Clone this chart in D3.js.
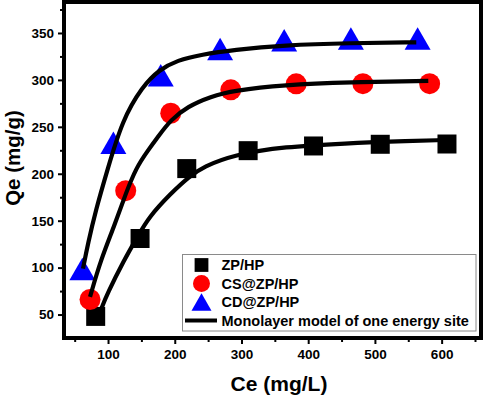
<!DOCTYPE html>
<html><head><meta charset="utf-8">
<script src="https://cdn.jsdelivr.net/npm/d3@7"></script>
<style>body{margin:0;background:#fff}svg{display:block}text{font-family:Arial,"Liberation Sans",sans-serif;font-weight:bold;fill:#000}</style>
</head><body><svg id="c" width="484" height="397"></svg>
<script>
// ---- data ----
const seriesNames = ["ZP/HP", "CS@ZP/HP", "CD@ZP/HP"];
const fitName = "Monolayer model of one energy site";
const zpX = [81.5, 148, 218, 310, 408, 508, 608];
const zpY = [48, 131, 205.5, 224.6, 229.6, 231.4, 231.7];
const csX = [73, 126.5, 194, 284, 382, 482, 582];
const csY = [66, 182, 264.5, 289.4, 295.8, 296, 296];
const cdX = [61.5, 108, 179, 268, 364, 464, 564];
const cdY = [98.5, 233, 305, 333, 342.3, 344, 344];
// fitted curves
const zpFitX = [89, 99, 124, 144, 161.5, 194, 221.4, 243, 288, 363, 463, 515, 608];
const zpFitY = [54.6, 72.4, 108, 132.8, 154.2, 179.1, 196.9, 207.5, 220, 228.9, 232.5, 234.2, 236];
const csFitX = [73, 89, 109, 126.5, 142.7, 159, 175.4, 194, 219, 254, 288, 363, 463, 580];
const csFitY = [68.8, 108, 143.5, 179, 207, 224, 240, 257.4, 271.6, 282.3, 288.7, 294.8, 297.6, 299];
const cdFitX = [62.5, 70, 81.6, 99, 121.4, 151.4, 176.5, 204, 240, 288, 363, 463, 562];
const cdFitY = [99, 125.8, 161.3, 204, 257.3, 293, 310.7, 321, 327, 332, 337, 339.3, 340];
const xTicks = [100, 200, 300, 400, 500, 600];
const xMinor = [50, 150, 250, 350, 450, 550, 650];
const yTicks = [50, 100, 150, 200, 250, 300, 350];
const yMinor = [75, 125, 175, 225, 275, 325, 375];

// ---- layout ----
const L = 64, T = 2, R = 481, B = 338;
const svg = d3.select("#c");
const x = d3.scaleLinear().domain([34, 659]).range([L, R]);
const y = d3.scaleLinear().domain([25, 383]).range([B, T]);

// axes (ticks outward)
const gx = svg.append("g").attr("transform", `translate(0,${B})`)
  .call(d3.axisBottom(x).tickValues(xTicks).tickSize(6).tickPadding(5));
const gxm = svg.append("g").attr("transform", `translate(0,${B})`)
  .call(d3.axisBottom(x).tickValues(xMinor).tickSize(4).tickFormat(""));
const gy = svg.append("g").attr("transform", `translate(${L},0)`)
  .call(d3.axisLeft(y).tickValues(yTicks).tickSize(6).tickPadding(4));
const gym = svg.append("g").attr("transform", `translate(${L},0)`)
  .call(d3.axisLeft(y).tickValues(yMinor).tickSize(4).tickFormat(""));
[gx, gxm, gy, gym].forEach(g => {
  g.select(".domain").remove();
  g.selectAll(".tick line").attr("stroke", "#000").attr("stroke-width", 2);
  g.selectAll("text").attr("font-size", 13.5).attr("font-family", "Arial, 'Liberation Sans', sans-serif").attr("font-weight", "bold").attr("fill", "#000");
});

// markers
const sym = (type, size) => d3.symbol().type(type).size(size)();
const triSize = 292, triH = Math.sqrt(triSize * 4 / Math.sqrt(3)) * Math.sqrt(3) / 2;
const sets = [
  {xs: zpX, ys: zpY, type: d3.symbolSquare, size: 361, fill: "#000", dy: 0},
  {xs: csX, ys: csY, type: d3.symbolCircle, size: 346, fill: "#ff0000", dy: 0},
  {xs: cdX, ys: cdY, type: d3.symbolTriangle, size: triSize, fill: "#0000ff", dy: triH / 6}
];
sets.forEach(s => {
  svg.append("g").selectAll("path").data(s.xs.map((v, i) => [v, s.ys[i]])).join("path")
    .attr("d", sym(s.type, s.size))
    .attr("fill", s.fill)
    .attr("transform", d => `translate(${x(d[0])},${y(d[1]) + s.dy})`);
});

// fit curves
const line = d3.line().x(d => x(d[0])).y(d => y(d[1])).curve(d3.curveBasis);
[[zpFitX, zpFitY], [csFitX, csFitY], [cdFitX, cdFitY]].forEach(([xs, ys]) => {
  svg.append("path").datum(xs.map((v, i) => [v, ys[i]]))
    .attr("d", line).attr("fill", "none").attr("stroke", "#000").attr("stroke-width", 4.2);
});

// frame
svg.append("rect").attr("x", L).attr("y", T).attr("width", R - L).attr("height", B - T)
  .attr("fill", "none").attr("stroke", "#000").attr("stroke-width", 4);

// legend
const lg = svg.append("g");
lg.append("rect").attr("x", 182.5).attr("y", 254.5).attr("width", 293.5).attr("height", 76.5)
  .attr("fill", "#fff").attr("stroke", "#8a8a8a").attr("stroke-width", 1);
const rows = [265, 283.5, 302, 320.5];
const lsets = [
  {type: d3.symbolSquare, size: 190, fill: "#000", dy: 0},
  {type: d3.symbolCircle, size: 227, fill: "#ff0000", dy: 0},
  {type: d3.symbolTriangle, size: 173, fill: "#0000ff", dy: Math.sqrt(173 * 4 / Math.sqrt(3)) * Math.sqrt(3) / 12}
];
lsets.forEach((s, i) => {
  lg.append("path").attr("d", sym(s.type, s.size)).attr("fill", s.fill)
    .attr("transform", `translate(201.5,${rows[i] + s.dy})`);
  lg.append("text").attr("x", 221.5).attr("y", rows[i] + 5).attr("font-size", 14.5).text(seriesNames[i]);
});
lg.append("line").attr("x1", 185).attr("x2", 217).attr("y1", rows[3]).attr("y2", rows[3])
  .attr("stroke", "#000").attr("stroke-width", 4);
lg.append("text").attr("x", 221.5).attr("y", rows[3] + 5).attr("font-size", 14.5).text(fitName);

// axis titles
svg.append("text").attr("x", 279).attr("y", 391).attr("text-anchor", "middle").attr("font-size", 21).text("Ce (mg/L)");
svg.append("text").attr("transform", "translate(19.5,158) rotate(-90)").attr("text-anchor", "middle").attr("font-size", 20.5).text("Qe (mg/g)");
</script></body></html>
